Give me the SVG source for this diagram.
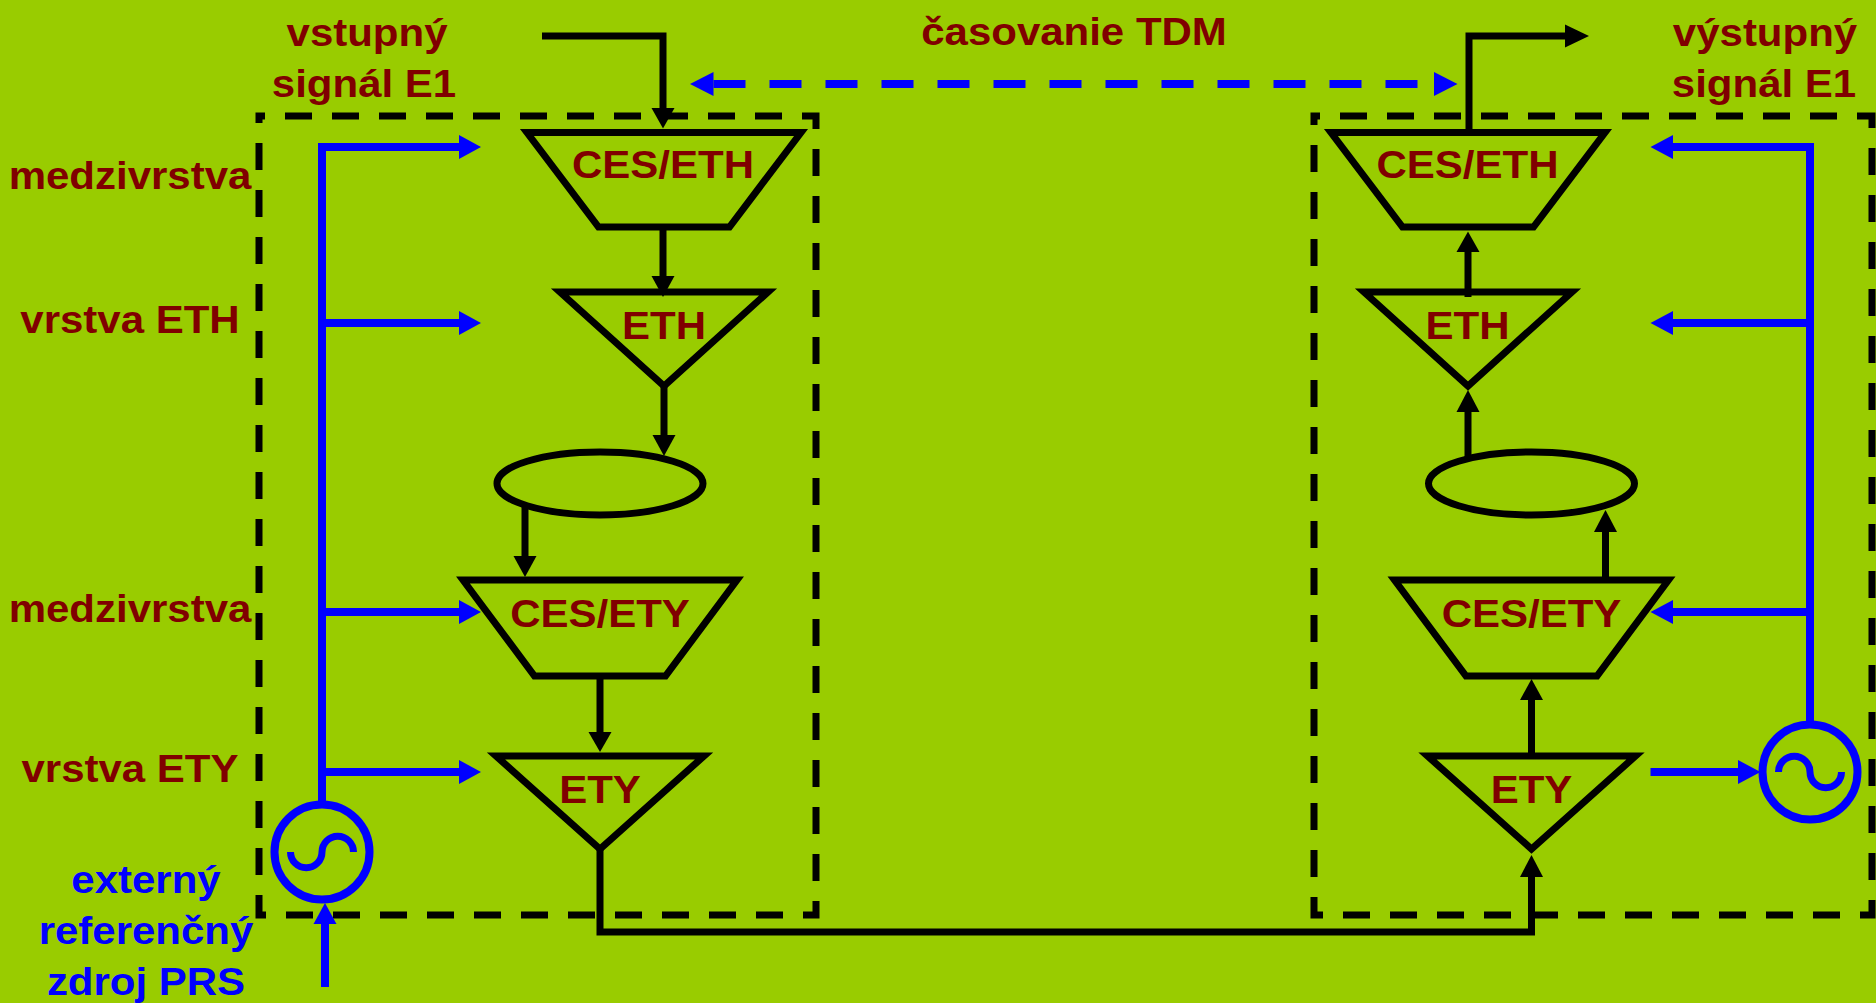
<svg xmlns="http://www.w3.org/2000/svg" width="1876" height="1003" viewBox="0 0 1876 1003">
<style>
.lbl{font-family:"Liberation Sans",Arial,sans-serif;font-weight:bold;font-size:38px;text-anchor:middle}
.red{fill:#800000}
.blu{fill:#0000ff}
.node{fill:none;stroke:#000;stroke-width:7;stroke-linejoin:miter}
.box{fill:none;stroke:#000;stroke-width:7;stroke-dasharray:27 20;stroke-dashoffset:21}
.wire{fill:none;stroke:#000;stroke-width:7}
.head{fill:#000}
.bwire{fill:none;stroke:#0000ff;stroke-width:8}
.bhead{fill:#0000ff}
.osc{fill:none;stroke:#0000ff;stroke-width:8}
.sine{fill:none;stroke:#0000ff;stroke-width:7}
</style>
<rect x="0" y="0" width="1876" height="1003" fill="#99cc00"/>

<g id="boxes">
<rect class="box" x="259" y="116" width="557" height="799"/>
<rect class="box" x="1314" y="116" width="558" height="799"/>
</g>

<g id="labels">
<text class="lbl red" transform="translate(367,46) scale(1.105,1)">vstupný</text>
<text class="lbl red" transform="translate(364,97) scale(1.105,1)">signál E1</text>
<text class="lbl red" transform="translate(1074,45) scale(1.105,1)">časovanie TDM</text>
<text class="lbl red" transform="translate(1765,46) scale(1.105,1)">výstupný</text>
<text class="lbl red" transform="translate(1764,97) scale(1.105,1)">signál E1</text>
<text class="lbl red" transform="translate(130,189) scale(1.105,1)">medzivrstva</text>
<text class="lbl red" transform="translate(130,333) scale(1.105,1)">vrstva ETH</text>
<text class="lbl red" transform="translate(130,622) scale(1.105,1)">medzivrstva</text>
<text class="lbl red" transform="translate(130,782) scale(1.105,1)">vrstva ETY</text>
<text class="lbl blu" transform="translate(146,893) scale(1.105,1)">externý</text>
<text class="lbl blu" transform="translate(146,944) scale(1.105,1)">referenčný</text>
<text class="lbl blu" transform="translate(146,995) scale(1.105,1)">zdroj PRS</text>
</g>

<g id="n-l-ces-eth">
<polygon class="node" points="527,132.5 801,132.5 729.5,227 598.5,227"/>
<text class="lbl red" transform="translate(663,178) scale(1.105,1)">CES/ETH</text>
</g>
<g id="n-l-eth">
<polygon class="node" points="560,292 768,292 664,386"/>
<text class="lbl red" transform="translate(664,339) scale(1.105,1)">ETH</text>
</g>
<g id="n-l-ell">
<ellipse class="node" cx="600" cy="483.5" rx="103" ry="31.5"/>
</g>
<g id="n-l-ces-ety">
<polygon class="node" points="463,580 737,580 665.5,676 534.5,676"/>
<text class="lbl red" transform="translate(600,627) scale(1.105,1)">CES/ETY</text>
</g>
<g id="n-l-ety">
<polygon class="node" points="496,756 704,756 600,849"/>
<text class="lbl red" transform="translate(600,803) scale(1.105,1)">ETY</text>
</g>

<g id="n-r-ces-eth">
<polygon class="node" points="1331,132.5 1605,132.5 1533.5,227 1402.5,227"/>
<text class="lbl red" transform="translate(1467.5,178) scale(1.105,1)">CES/ETH</text>
</g>
<g id="n-r-eth">
<polygon class="node" points="1364,292 1572,292 1468,386"/>
<text class="lbl red" transform="translate(1467.5,339) scale(1.105,1)">ETH</text>
</g>
<g id="n-r-ell">
<ellipse class="node" cx="1531.5" cy="483.5" rx="103" ry="31.5"/>
</g>
<g id="n-r-ces-ety">
<polygon class="node" points="1394.5,580 1668.5,580 1597,676 1466,676"/>
<text class="lbl red" transform="translate(1531.5,627) scale(1.105,1)">CES/ETY</text>
</g>
<g id="n-r-ety">
<polygon class="node" points="1427.5,756 1635.5,756 1531.5,849"/>
<text class="lbl red" transform="translate(1531.5,803) scale(1.105,1)">ETY</text>
</g>

<g id="n-l-osc">
<circle class="osc" cx="322" cy="852" r="47.5"/>
<path class="sine" d="M290.5,852 A15.75,15.75 0 0 0 322,852 A15.75,15.75 0 0 1 353.5,852"/>
</g>
<g id="n-r-osc">
<circle class="osc" cx="1810" cy="772" r="47.5"/>
<path class="sine" d="M1778.5,772 A15.75,15.75 0 0 1 1810,772 A15.75,15.75 0 0 0 1841.5,772"/>
</g>

<g id="connectors">
<polyline class="wire" points="542,36 663,36 663,110"/>
<polygon class="head" points="651.5,108 674.5,108 663,128.5"/>
<line class="wire" x1="663" y1="227" x2="663" y2="278"/>
<polygon class="head" points="651.5,276 674.5,276 663,297"/>
<line class="wire" x1="664" y1="386" x2="664" y2="437"/>
<polygon class="head" points="652.5,435 675.5,435 664,456"/>
<line class="wire" x1="525" y1="505" x2="525" y2="558"/>
<polygon class="head" points="513.5,556 536.5,556 525,577"/>
<line class="wire" x1="600" y1="676" x2="600" y2="734"/>
<polygon class="head" points="588.5,732 611.5,732 600,752"/>
<polyline class="wire" points="600,849 600,932 1531.5,932 1531.5,875"/>
<polygon class="head" points="1520,877 1543,877 1531.5,855"/>
<line class="wire" x1="1531.5" y1="756" x2="1531.5" y2="698"/>
<polygon class="head" points="1520,700 1543,700 1531.5,679"/>
<line class="wire" x1="1605.5" y1="580" x2="1605.5" y2="530"/>
<polygon class="head" points="1594,532 1617,532 1605.5,510"/>
<line class="wire" x1="1468" y1="459" x2="1468" y2="410"/>
<polygon class="head" points="1456.5,412 1479.5,412 1468,390"/>
<line class="wire" x1="1468" y1="297" x2="1468" y2="250"/>
<polygon class="head" points="1456.5,252 1479.5,252 1468,231.5"/>
<polyline class="wire" points="1469,132 1469,36 1567,36"/>
<polygon class="head" points="1565,24.5 1565,47.5 1589,36"/>

<line class="bwire" x1="713.5" y1="84" x2="1434" y2="84" stroke-dasharray="32 24"/>
<polygon class="bhead" points="713.5,72 713.5,96 690,84"/>
<polygon class="bhead" points="1434,72 1434,96 1457.5,84"/>

<path class="bwire" d="M460,147 H322 V805"/>
<line class="bwire" x1="322" y1="323" x2="460" y2="323"/>
<line class="bwire" x1="322" y1="612" x2="460" y2="612"/>
<line class="bwire" x1="322" y1="772" x2="460" y2="772"/>
<polygon class="bhead" points="459,135 459,159 481,147"/>
<polygon class="bhead" points="459,311 459,335 481,323"/>
<polygon class="bhead" points="459,600 459,624 481,612"/>
<polygon class="bhead" points="459,760 459,784 481,772"/>
<line class="bwire" x1="325" y1="987" x2="325" y2="922"/>
<polygon class="bhead" points="313.5,924 336.5,924 325,903"/>

<path class="bwire" d="M1672,147 H1810 V725"/>
<line class="bwire" x1="1810" y1="323" x2="1672" y2="323"/>
<line class="bwire" x1="1810" y1="612" x2="1672" y2="612"/>
<polygon class="bhead" points="1673,135 1673,159 1650.5,147"/>
<polygon class="bhead" points="1673,311 1673,335 1650.5,323"/>
<polygon class="bhead" points="1673,600 1673,624 1650.5,612"/>
<line class="bwire" x1="1650.5" y1="772" x2="1739" y2="772"/>
<polygon class="bhead" points="1738,760 1738,784 1760.5,772"/>
</g>
</svg>
